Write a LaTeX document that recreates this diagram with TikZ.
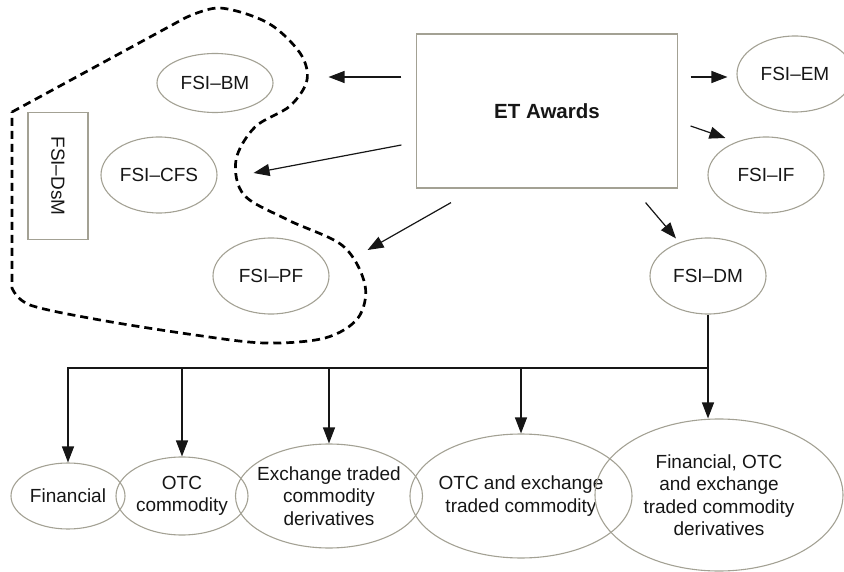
\documentclass[tikz,border=0pt]{standalone}
\usepackage{fontspec}
\setmainfont{Liberation Sans}
\usetikzlibrary{arrows.meta,shapes.geometric}
\definecolor{UnitGrey}{RGB}{163,161,148}
\definecolor{InkBlack}{RGB}{22,22,22}

\begin{document}
\begin{tikzpicture}[
  x=1pt, y=-1pt, % one unit per pixel, y grows downwards
  font=\fontsize{19}{22.5}\selectfont,
  unit/.style={ellipse, draw=UnitGrey, line width=1.1pt, inner sep=-12pt, align=center,
    text=InkBlack, minimum width=116pt, minimum height=76pt},
  award/.style={rectangle, draw=UnitGrey, line width=1.2pt, text=InkBlack,
    minimum width=261pt, minimum height=154pt, font=\fontsize{20.5}{24}\selectfont\bfseries},
  sidebox/.style={rectangle, draw=UnitGrey, line width=1.2pt, text=InkBlack,
    minimum width=127pt, minimum height=60pt},
  arrow/.style={-{Triangle[length=16pt,width=12pt]}, line width=1.2pt, draw=InkBlack},
  bus/.style={line width=1.2pt, draw=InkBlack},
  boundary/.style={draw=black, line width=2.7pt, dash pattern=on 8pt off 5pt}
]
\useasboundingbox (0,0) rectangle (844,572);

% --- Centre: the awarding body ---
\node[award] (award) at (547,111) {ET Awards};

% --- Left group inside the dashed boundary ---
\node[unit, minimum height=59pt] (bm) at (215,83) {FSI--BM};
\node[unit] (cfs) at (159,175) {FSI--CFS};
\node[unit] (pf) at (271,276) {FSI--PF};
\node[sidebox, rotate=-90] (dsm) at (58,176) {FSI--DsM};

\draw[boundary] (12,112) -- plot[smooth, tension=0.55] coordinates {
  (185,18) (220,8) (268,23) (300,53) (307,80) (290,106) (255,127) (236,160)
  (244,195) (288,220) (343,246) (365,285) (358,318) (325,338) (265,343)
  (195,335) (100,320) (30,305) (12,288)} -- cycle;

% --- Right side ---
\node[unit] (em) at (795,74) {FSI--EM};
\node[unit] (if) at (766,175) {FSI--IF};
\node[unit] (dm) at (708,276) {FSI--DM};

% --- Bottom row: derivative markets ---
\node[unit, minimum width=114pt, minimum height=66pt] (fin) at (68,496) {Financial};
\node[unit, minimum width=132pt, minimum height=78pt] (otc) at (182,496) {OTC\\commodity};
\node[unit, minimum width=187pt, minimum height=104pt] (exch) at (329,496)
  {Exchange traded\\commodity\\derivatives};
\node[unit, minimum width=222pt, minimum height=124pt] (otcx) at (521,496)
  {OTC and exchange\\traded commodity};
\node[unit, minimum width=248pt, minimum height=152pt] (all) at (719,495)
  {Financial, OTC\\and exchange\\traded commodity\\derivatives};

% --- Arrows out of the awards box ---
\draw[arrow] ([shift={(-14.5,-34)}]award.west) -- ([shift={(55,-6)}]bm.east);
\draw[arrow] ([shift={(-14.5,34)}]award.west) -- ([shift={(36,-2)}]cfs.east);
\draw[arrow] ([shift={(-96,14)}]award.south) -- ([shift={(38,-26)}]pf.east);
\draw[arrow] ([shift={(12.5,-34)}]award.east) -- ([shift={(-9,3)}]em.west);
\draw[arrow] ([shift={(12.5,15)}]award.east) -- ([shift={(18,-37)}]if.west);
\draw[arrow] ([shift={(-32.5,14)}]award.south east) -- ([shift={(-32,1)}]dm.north);

% --- Distribution bus below FSI-DM ---
\coordinate (hub) at (708,368);
\draw[bus] (dm) -- (hub);
\draw[arrow] (hub) -| (fin.north);
\draw[arrow] (hub) -| (otc.north);
\draw[arrow] (hub) -| (exch.north);
\draw[arrow] (hub) -| (otcx.north);
\draw[arrow] (hub) -- (hub |- all.north);

\end{tikzpicture}
\end{document}
